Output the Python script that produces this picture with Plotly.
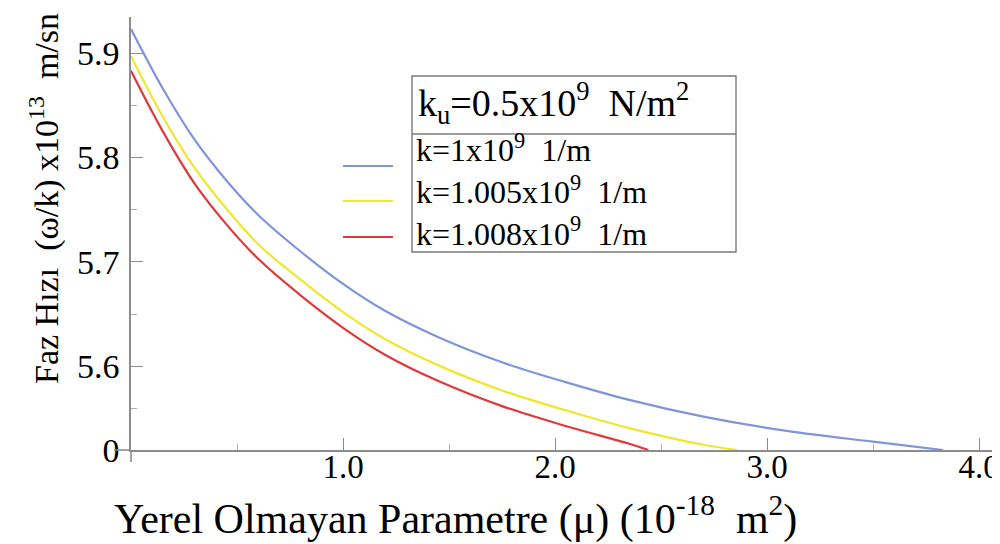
import plotly.graph_objects as go

# ---------------- data ----------------
mu_k1 = [0, 0.15, 0.3, 0.45, 0.6, 0.8, 1.0, 1.2, 1.45, 1.75, 2.05, 2.35, 2.7, 3.1, 3.5, 3.83]
v_k1 = [5.923, 5.866, 5.817, 5.778, 5.745, 5.710, 5.679, 5.653, 5.628, 5.604, 5.585,
        5.568, 5.552, 5.538, 5.528, 5.520]

mu_k1005 = [0, 0.15, 0.3, 0.45, 0.6, 0.8, 1.0, 1.2, 1.45, 1.75, 2.05, 2.35, 2.7, 2.86]
v_k1005 = [5.897, 5.839, 5.790, 5.751, 5.717, 5.683, 5.652, 5.626, 5.601, 5.577, 5.558,
           5.541, 5.525, 5.520]

mu_k1008 = [0, 0.15, 0.3, 0.45, 0.6, 0.8, 1.0, 1.2, 1.45, 1.75, 2.05, 2.35, 2.44]
v_k1008 = [5.883, 5.825, 5.775, 5.736, 5.703, 5.668, 5.637, 5.611, 5.586, 5.562, 5.543,
           5.526, 5.520]

series_names = ["k=1x10<sup>9</sup>\u00a0\u00a01/m",
                "k=1.005x10<sup>9</sup>\u00a0\u00a01/m",
                "k=1.008x10<sup>9</sup>\u00a0\u00a01/m"]
series_colors = ["#7f95d9", "#f0e62c", "#e0393b"]

x_tick_vals = [1, 2, 3, 4]
x_tick_text = ["1.0", "2.0", "3.0", "4.0"]
x_minor_vals = [0.5, 1.5, 2.5, 3.5]
y_tick_vals = [5.52, 5.6, 5.7, 5.8, 5.9]
y_tick_text = ["0", "5.6", "5.7", "5.8", "5.9"]
y_minor_vals = [5.56, 5.65, 5.75, 5.85]

legend_header = "k<sub>u</sub>=0.5x10<sup>9</sup>\u00a0\u00a0N/m<sup>2</sup>"
x_title = "Yerel Olmayan Parametre (\u03bc) (10<sup>-18</sup>\u00a0\u00a0m<sup>2</sup>)"
y_title = "Faz H\u0131z\u0131\u00a0\u00a0(\u03c9/k) x10<sup>13</sup>\u00a0\u00a0m/sn"

# ---------------- layout helpers ----------------
# the page body adds an 8px offset, so margins are reduced by 8px
W, H = 1000, 544
L, R, T, B = 123, 12, 9, 102
PW, PH = W - L - R, H - T - B
PLOT_LEFT_PAGE, PLOT_BOTTOM_PAGE = 131, 450


def pxx(x):
    return (x - PLOT_LEFT_PAGE) / PW


def pxy(y):
    return (PLOT_BOTTOM_PAGE - y) / PH


FONT = "Liberation Serif, Times New Roman, serif"
AX = "#8c8c8c"

fig = go.Figure()
for xs, ys, name, col in zip([mu_k1, mu_k1005, mu_k1008],
                             [v_k1, v_k1005, v_k1008],
                             series_names, series_colors):
    fig.add_trace(go.Scatter(x=xs, y=ys, mode="lines", name=name,
                             line=dict(color=col, width=2.2, shape="spline", smoothing=1.0),
                             showlegend=False, hoverinfo="skip"))

axis_common = dict(showline=True, linecolor=AX, linewidth=1.6, ticks="inside",
                   ticklen=12, tickwidth=1, tickcolor=AX, showgrid=False,
                   zeroline=False, tickmode="array", automargin=False)

fig.update_xaxes(range=[0, 4.08], tickvals=x_tick_vals, ticktext=x_tick_text,
                 ticklabelstandoff=-13,
                 tickfont=dict(family=FONT, size=33, color="black"),
                 minor=dict(tickvals=x_minor_vals, ticks="inside", ticklen=6,
                            tickcolor="#b0b0b0", tickwidth=1),
                 **axis_common)
fig.update_yaxes(range=[5.52, 5.9345], tickvals=y_tick_vals, ticktext=y_tick_text,
                 ticklabelstandoff=3,
                 tickfont=dict(family=FONT, size=34, color="black"),
                 minor=dict(tickvals=y_minor_vals, ticks="inside", ticklen=6,
                            tickcolor="#b0b0b0", tickwidth=1),
                 **axis_common)

shapes = []
# axis overhangs (Mathematica-style crossing axes)
shapes.append(dict(type="line", xref="paper", yref="paper",
                   x0=pxx(114), x1=pxx(131), y0=0, y1=0,
                   line=dict(color=AX, width=1.6)))
shapes.append(dict(type="line", xref="paper", yref="paper",
                   x0=0, x1=0, y0=pxy(462), y1=0,
                   line=dict(color=AX, width=1.6)))
# legend box
shapes.append(dict(type="rect", xref="paper", yref="paper",
                   x0=pxx(412), x1=pxx(736), y0=pxy(252), y1=pxy(76),
                   line=dict(color="#7a7a7a", width=1.4), fillcolor="white"))
shapes.append(dict(type="line", xref="paper", yref="paper",
                   x0=pxx(412), x1=pxx(736), y0=pxy(134), y1=pxy(134),
                   line=dict(color="#7a7a7a", width=1.4)))
sample_y = [166, 201, 237]
for sy, col in zip(sample_y, series_colors):
    shapes.append(dict(type="line", xref="paper", yref="paper",
                       x0=pxx(343), x1=pxx(393), y0=pxy(sy), y1=pxy(sy),
                       line=dict(color=col, width=2)))

annotations = []
annotations.append(dict(text=legend_header, xref="paper", yref="paper",
                        x=pxx(416), y=pxy(103), xanchor="left", yanchor="middle",
                        showarrow=False, font=dict(family=FONT, size=38, color="black")))
annotations.append(dict(text="<br>".join(series_names), xref="paper", yref="paper",
                        x=pxx(414), y=pxy(190), xanchor="left", yanchor="middle",
                        align="left", showarrow=False,
                        font=dict(family=FONT, size=32, color="black")))
annotations.append(dict(text=x_title, xref="paper", yref="paper",
                        x=pxx(455), y=pxy(516), xanchor="center", yanchor="middle",
                        showarrow=False, font=dict(family=FONT, size=42, color="black")))
annotations.append(dict(text=y_title, xref="paper", yref="paper",
                        x=pxx(45), y=pxy(199), xanchor="center", yanchor="middle",
                        textangle=-90, showarrow=False,
                        font=dict(family=FONT, size=34, color="black")))

fig.update_layout(width=W, height=H, margin=dict(l=L, r=R, t=T, b=B, pad=0),
                  paper_bgcolor="white", plot_bgcolor="white",
                  shapes=shapes, annotations=annotations)

fig.write_html("out.html")
